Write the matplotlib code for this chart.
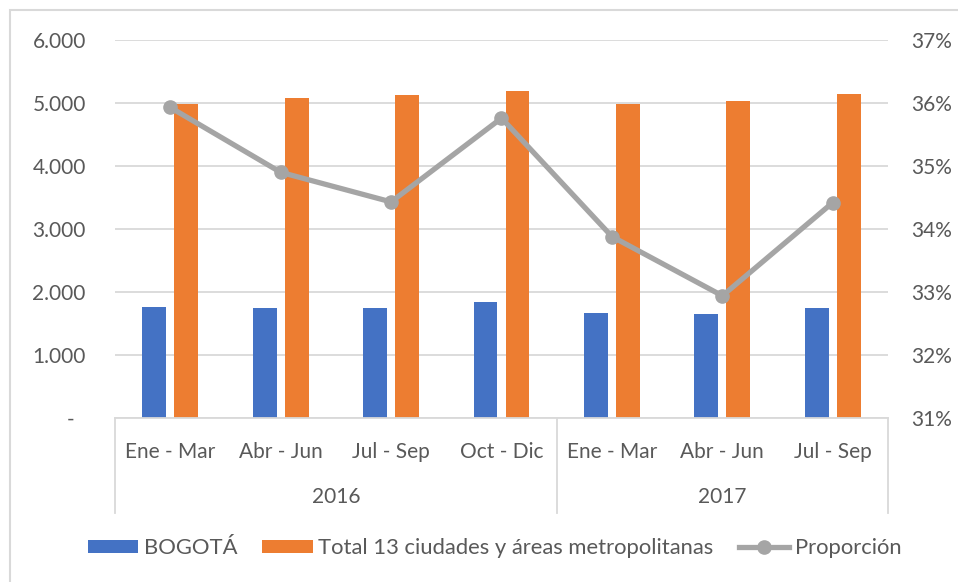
import numpy as np
import matplotlib.pyplot as plt
from matplotlib.lines import Line2D
from matplotlib.patches import Rectangle
from matplotlib.ticker import FuncFormatter, FixedLocator
import matplotlib.transforms as mtransforms

plt.rcParams['font.family'] = ['Lato', 'DejaVu Sans']

quarters = ['Ene - Mar', 'Abr - Jun', 'Jul - Sep', 'Oct - Dic', 'Ene - Mar', 'Abr - Jun', 'Jul - Sep']
years = ['2016', '2017']
year_sizes = [4, 3]
bogota = [1767, 1742, 1742, 1846, 1663, 1646, 1742]
total13 = [4984, 5084, 5122, 5186, 4984, 5027, 5143]
proporcion = [35.93, 34.90, 34.43, 35.76, 33.88, 32.94, 34.42]

blue = '#4472C4'
orange = '#ED7D31'
gray = '#A5A5A5'
txt = '#595959'
grid = '#D9D9D9'
fs = 15

fig = plt.figure(figsize=(9.58, 5.82), dpi=100)
ax = fig.add_axes([115/958, (582-418)/582, (888-115)/958, 378/582])

x = np.arange(len(quarters))
b1 = ax.bar(x - 0.145, bogota, width=0.217, color=blue, label='BOGOTÁ', zorder=2)
b2 = ax.bar(x + 0.145, total13, width=0.217, color=orange,
            label='Total 13 ciudades y áreas metropolitanas', zorder=2)
ax.set_xlim(-0.5, len(quarters) - 0.5)
ax.set_ylim(0, 6000)
ax.yaxis.set_major_locator(FixedLocator(range(0, 6001, 1000)))
ax.yaxis.set_major_formatter(FuncFormatter(
    lambda v, p: '-  ' if v == 0 else '{:,.0f}'.format(v).replace(',', '.')))
ax.grid(axis='y', color=grid, lw=1.3, zorder=0)
ax.set_axisbelow(True)
ax.set_xticks([])
ax.tick_params(axis='y', length=0, pad=21, labelsize=fs, labelcolor=txt)
for s in ['top', 'left', 'right']:
    ax.spines[s].set_visible(False)
ax.spines['bottom'].set_color(grid)
ax.spines['bottom'].set_linewidth(1.3)

ax2 = ax.twinx()
ln, = ax2.plot(x, proporcion, color=gray, lw=3.8, marker='o', ms=9.5, label='Proporción')
ax2.set_ylim(31, 37)
ax2.yaxis.set_major_locator(FixedLocator(range(31, 38)))
ax2.yaxis.set_major_formatter(FuncFormatter(lambda v, p: '%d%%' % v))
ax2.tick_params(axis='y', length=0, pad=17, labelsize=fs, labelcolor=txt)
for s in ax2.spines.values():
    s.set_visible(False)

# multi-level category axis
tr = mtransforms.blended_transform_factory(ax.transData, ax.transAxes)
for i, q in enumerate(quarters):
    ax.text(i, -0.09, q, transform=tr, ha='center', va='center', fontsize=fs, color=txt)
edges = np.concatenate([[0], np.cumsum(year_sizes)]) - 0.5
for e in edges:
    ax.add_line(Line2D([e, e], [0, -0.251], transform=tr, color=grid, lw=1.3, clip_on=False))
for k, yr in enumerate(years):
    ax.text((edges[k] + edges[k+1]) / 2, -0.209, yr, transform=tr,
            ha='center', va='center', fontsize=fs, color=txt)

fig.legend(handles=[b1, b2, ln], loc='center', bbox_to_anchor=(494.5/958, 1 - 548/582),
           ncol=3, frameon=False, fontsize=15.8, labelcolor=txt, handlelength=2.3,
           handleheight=0.55, handletextpad=0.25, columnspacing=1.15)

fig.patches.append(Rectangle((10/958, -0.01), 1, 572/582 + 0.01, transform=fig.transFigure,
                             fill=False, ec=grid, lw=1.5))

fig.savefig('out.png', dpi=100)
